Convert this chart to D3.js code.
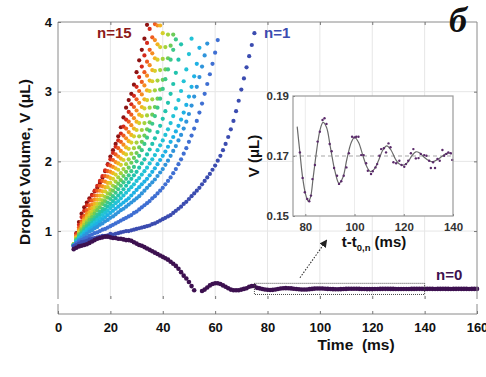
<!DOCTYPE html>
<html>
<head>
<meta charset="utf-8">
<script src="https://cdn.jsdelivr.net/npm/d3@7"></script>
<style>
  body { margin: 0; background: #fff; }
  svg { display: block; font-family: "Liberation Sans", Arial, sans-serif; font-weight: bold; }
</style>
</head>
<body>
<svg></svg>
<script>
// camera frames: first frame at 6 ms, one frame per ms
const frameStart = 6;
const frameStep = 1;

// n=0 droplet, before pinch-off (6..52 ms) and after (55..160 ms)
const vN0a = [0.74,0.76,0.78,0.79,0.80,0.81,0.83,0.85,0.87,0.89,0.90,0.91,0.92,0.92,0.91,0.90,0.90,0.89,0.89,0.88,
    0.87,0.87,0.86,0.84,0.82,0.80,0.79,0.77,0.75,0.73,0.71,0.69,0.67,0.65,0.63,0.61,0.59,0.56,0.53,0.50,
    0.46,0.41,0.36,0.32,0.27,0.21,0.15];
const tailStart = 55;
const vN0b = [0.14,0.16,0.19,0.22,0.24,0.25,0.25,0.24,0.22,0.20,0.18,0.16,0.15,0.15,0.15,0.16,0.17,0.18,0.20,0.21,0.21,
    0.185,0.178,0.168,0.161,0.157,0.155,0.156,0.161,0.168,0.175,0.179,0.181,0.180,0.177,0.173,0.168,0.165,0.162,0.161,0.162,
    0.166,0.170,0.174,0.176,0.176,0.175,0.173,0.170,0.168,0.166,0.165,0.165,0.166,0.168,0.170,0.172,0.173,0.173,0.173,0.171,
    0.169,0.168,0.167,0.167,0.167,0.168,0.169,0.170,0.171,0.171,0.171,0.170,0.170,0.169,0.168,0.168,0.168,0.169,0.169,0.170,
    0.170,0.171,0.171,0.171,0.170,
    0.170,0.171,0.170,0.169,0.170,0.170,0.171,0.170,0.170,0.169,0.170,0.170,0.171,0.170,0.170,0.170,0.169,0.170,0.170,0.170];

const vN1 = [0.78,0.80,0.82,0.84,0.85,0.86,0.88,0.89,0.90,0.91,0.92,0.93,0.93,0.94,0.96,0.95,0.96,0.97,0.98,0.99,
    1.00,1.00,1.01,1.02,1.03,1.04,1.05,1.06,1.07,1.08,1.10,1.11,1.13,1.15,1.17,1.19,1.21,1.23,1.26,1.29,
    1.32,1.35,1.39,1.42,1.46,1.50,1.54,1.58,1.62,1.67,1.72,1.77,1.82,1.88,1.94,2.01,2.08,2.16,2.25,2.35,
    2.46,2.58,2.72,2.87,3.03,3.19,3.35,3.51,3.67,3.84];
const vN2 = [0.79,0.82,0.85,0.87,0.89,0.91,0.93,0.95,0.97,0.98,1.00,1.02,1.03,1.05,1.07,1.09,1.11,1.13,1.15,1.17,
    1.19,1.21,1.23,1.26,1.28,1.31,1.34,1.37,1.40,1.43,1.47,1.50,1.54,1.58,1.62,1.67,1.72,1.77,1.83,1.89,
    1.96,2.03,2.11,2.19,2.28,2.37,2.47,2.58,2.70,2.83,2.97,3.11,3.25,3.40,3.56,3.74];
const vN3 = [0.79,0.83,0.87,0.90,0.93,0.96,0.99,1.01,1.04,1.06,1.09,1.11,1.14,1.16,1.19,1.21,1.24,1.27,1.30,1.32,
    1.35,1.38,1.41,1.44,1.47,1.50,1.54,1.58,1.62,1.66,1.70,1.74,1.79,1.84,1.89,1.95,2.01,2.08,2.15,2.22,
    2.30,2.38,2.47,2.57,2.68,2.80,2.93,3.07,3.21,3.36,3.52,3.69];
const vN4 = [0.79,0.84,0.88,0.92,0.96,0.99,1.02,1.05,1.08,1.11,1.14,1.17,1.20,1.23,1.26,1.29,1.32,1.35,1.38,1.41,
    1.44,1.47,1.51,1.55,1.59,1.63,1.67,1.71,1.75,1.80,1.85,1.90,1.96,2.02,2.08,2.14,2.21,2.28,2.35,2.43,
    2.51,2.60,2.70,2.81,2.93,3.07,3.22,3.40,3.63];
const vN5 = [0.80,0.85,0.90,0.94,0.98,1.02,1.05,1.09,1.12,1.16,1.19,1.23,1.26,1.29,1.33,1.36,1.40,1.43,1.47,1.51,
    1.55,1.59,1.63,1.67,1.72,1.76,1.81,1.86,1.91,1.97,2.03,2.09,2.16,2.23,2.30,2.38,2.46,2.55,2.65,2.76,
    2.88,3.01,3.15,3.32,3.54,3.76];
const vN6 = [0.80,0.86,0.91,0.96,1.00,1.04,1.08,1.12,1.16,1.20,1.24,1.28,1.31,1.35,1.39,1.43,1.47,1.51,1.55,1.60,
    1.65,1.70,1.75,1.80,1.85,1.91,1.97,2.03,2.10,2.17,2.25,2.33,2.42,2.51,2.61,2.72,2.84,2.97,3.11,3.27,
    3.46,3.68];
const vN7 = [0.80,0.87,0.93,0.98,1.03,1.07,1.11,1.16,1.20,1.24,1.28,1.32,1.37,1.41,1.46,1.50,1.55,1.60,1.65,1.70,
    1.75,1.80,1.86,1.92,2.00,2.08,2.16,2.25,2.34,2.44,2.54,2.65,2.77,2.90,3.04,3.18,3.32,3.46,3.60,3.75];
const vN8 = [0.81,0.88,0.95,1.01,1.06,1.11,1.16,1.20,1.25,1.30,1.34,1.39,1.43,1.48,1.53,1.58,1.63,1.68,1.73,1.79,
    1.85,1.91,1.98,2.05,2.12,2.20,2.28,2.37,2.46,2.56,2.67,2.78,2.90,3.03,3.17,3.32,3.48,3.66,3.82];
const vN9 = [0.81,0.89,0.96,1.03,1.09,1.14,1.19,1.24,1.29,1.34,1.39,1.44,1.49,1.54,1.59,1.65,1.71,1.77,1.83,1.89,
    1.96,2.03,2.11,2.19,2.27,2.36,2.45,2.55,2.66,2.77,2.89,3.02,3.16,3.31,3.47,3.64,3.82];
const vN10 = [0.81,0.90,0.98,1.05,1.12,1.18,1.23,1.28,1.34,1.39,1.45,1.51,1.57,1.63,1.69,1.75,1.81,1.88,1.95,2.02,
    2.10,2.18,2.27,2.36,2.45,2.55,2.65,2.76,2.88,3.01,3.15,3.30,3.46,3.64,3.84];
const vN11 = [0.81,0.91,1.00,1.08,1.15,1.21,1.27,1.33,1.39,1.45,1.51,1.57,1.63,1.69,1.76,1.83,1.90,1.97,2.04,2.12,
    2.20,2.29,2.38,2.47,2.57,2.67,2.78,2.89,3.02,3.16,3.31,3.48,3.68,3.95];
const vN12 = [0.81,0.92,1.02,1.11,1.18,1.25,1.32,1.38,1.45,1.51,1.58,1.64,1.71,1.78,1.85,1.92,1.99,2.07,2.15,2.24,
    2.33,2.42,2.52,2.62,2.73,2.84,2.96,3.09,3.23,3.38,3.55,3.74,3.95];
const vN13 = [0.80,0.94,1.05,1.14,1.22,1.30,1.37,1.44,1.51,1.58,1.65,1.72,1.79,1.86,1.94,2.02,2.10,2.19,2.28,2.37,
    2.47,2.57,2.67,2.78,2.89,3.01,3.14,3.28,3.43,3.60,3.78,3.97];
const vN14 = [0.80,0.96,1.09,1.20,1.29,1.37,1.44,1.51,1.58,1.65,1.72,1.79,1.87,1.95,2.03,2.12,2.21,2.30,2.40,2.50,
    2.60,2.71,2.82,2.94,3.07,3.21,3.36,3.52,3.70,3.90];
const vN15 = [0.80,0.97,1.13,1.25,1.34,1.41,1.47,1.52,1.57,1.62,1.69,1.77,1.86,1.96,2.07,2.16,2.25,2.36,2.49,2.63,
    2.77,2.88,2.97,3.10,3.28,3.45,3.60,3.76,3.96];

const growing = [vN1, vN2, vN3, vN4, vN5, vN6, vN7, vN8, vN9, vN10, vN11, vN12, vN13, vN14, vN15];
const colors = ["#3d1150", "#3b4cb0", "#3f6fd2", "#2f94db", "#1fb1e4", "#22c2d6", "#22c3ad", "#3cc889",
    "#6ccc58", "#a5d23c", "#d6cf2b", "#f3b320", "#f68b21", "#ee5b20", "#d42a1b", "#8d1212"];

// inset: fitted curve and raw points of n=0 after pinch-off
const insetCurveT = [76.7,77.8,78.9,80.1,81.2,82.1,83.2,84.6,85.9,87.2,88.6,90.2,92.0,93.7,95.3,96.9,98.7,100.0,101.6,103.4,
    105.0,106.5,108.1,109.7,111.5,113.1,114.8,116.6,118.2,119.9,121.6,123.3,124.9,126.5,128.3,130.3,131.9,133.7,135.4,137.0,
    138.4,139.5];
const insetCurveV = [0.1798,0.1712,0.1629,0.1573,0.1549,0.1562,0.1629,0.1718,0.1784,0.1812,0.1796,0.1729,0.1651,0.1609,
    0.1629,0.1690,0.1746,0.1762,0.1746,0.1701,0.1664,0.1648,0.1657,0.1684,0.1720,0.1734,0.1720,0.1690,0.1673,0.1670,
    0.1679,0.1701,0.1714,0.1710,0.1696,0.1684,0.1681,0.1688,0.1698,0.1707,0.1710,0.1707];
const insetDotT = [77.8,78.9,79.8,80.8,81.6,82.3,82.9,83.9,85.0,85.9,87.0,87.8,88.6,89.9,90.7,91.7,92.9,93.7,94.6,95.6,
    96.7,97.7,99.0,100.0,100.7,101.6,102.7,103.7,104.7,105.4,106.7,107.4,108.5,109.2,110.1,110.8,111.9,112.8,113.8,114.6,
    115.8,116.9,118.2,119.1,120.2,120.9,121.8,122.9,123.9,124.9,126.0,126.9,128.3,129.2,130.3,131.0,131.9,132.7,133.7,134.6,
    135.7,136.4,137.3,138.1,139.1,139.7];
const insetDotV = [0.1712,0.1627,0.1579,0.1557,0.1549,0.1568,0.1623,0.1670,0.1748,0.1781,0.1820,0.1826,0.1807,0.1740,
    0.1716,0.1660,0.1634,0.1607,0.1616,0.1634,0.1662,0.1709,0.1764,0.1762,0.1764,0.1764,0.1703,0.1703,0.1676,0.1651,
    0.1640,0.1649,0.1662,0.1673,0.1701,0.1723,0.1726,0.1712,0.1742,0.1729,0.1679,0.1676,0.1684,0.1670,0.1664,0.1673,
    0.1684,0.1709,0.1723,0.1692,0.1693,0.1707,0.1703,0.1701,0.1684,0.1660,0.1679,0.1660,0.1690,0.1684,0.1720,0.1701,
    0.1707,0.1712,0.1709,0.1687];

const xTicks = [0, 20, 40, 60, 80, 100, 120, 140, 160];
const yTicks = [1, 2, 3, 4];
const insetXTicks = [80, 100, 120, 140];
const insetYTicks = [0.15, 0.17, 0.19];

const svg = d3.select("svg")
    .attr("width", 486)
    .attr("height", 377);

const pLeft = 58, pRight = 477, pTop = 22, upperBottom = 299, lowerTop = 304, pBottom = 314;

const x = d3.scaleLinear().domain([0, 160]).range([pLeft, pRight]);
const y = d3.scaleLinear().domain([0.025, 4]).range([upperBottom, pTop]);

// grid
svg.append("g").selectAll("line")
    .data(xTicks.filter(d => d > 0 && d < 160))
    .enter().append("line")
    .attr("x1", d => x(d)).attr("x2", d => x(d))
    .attr("y1", pTop).attr("y2", upperBottom)
    .attr("stroke", "#e6e6e6");
svg.append("g").selectAll("line")
    .data(yTicks.filter(d => d < 4))
    .enter().append("line")
    .attr("x1", pLeft).attr("x2", pRight)
    .attr("y1", d => y(d)).attr("y2", d => y(d))
    .attr("stroke", "#e6e6e6");

// growing droplets, n=15 drawn first
const dots = svg.append("g");
for (let i = growing.length - 1; i >= 0; i--) {
    dots.append("g").selectAll("circle")
        .data(growing[i])
        .enter().append("circle")
        .attr("cx", (d, j) => x(frameStart + j * frameStep))
        .attr("cy", d => y(d))
        .attr("r", 2.1)
        .attr("fill", colors[i + 1]);
}
const n0 = vN0a.map((v, j) => [frameStart + j * frameStep, v])
    .concat(vN0b.map((v, j) => [tailStart + j * frameStep, v]));
dots.append("g").selectAll("circle")
    .data(n0)
    .enter().append("circle")
    .attr("cx", d => x(d[0]))
    .attr("cy", d => y(d[1]))
    .attr("r", 2.3)
    .attr("fill", colors[0]);

// zoom box and arrow
svg.append("rect")
    .attr("x", x(75)).attr("y", y(0.25))
    .attr("width", x(140) - x(75)).attr("height", y(0.09) - y(0.25))
    .attr("fill", "none")
    .attr("stroke", "#444")
    .attr("stroke-dasharray", "1,1");
svg.append("defs").append("marker")
    .attr("id", "head")
    .attr("viewBox", "0 0 10 10")
    .attr("refX", 9).attr("refY", 5)
    .attr("markerWidth", 7).attr("markerHeight", 7)
    .attr("orient", "auto")
    .append("path")
    .attr("d", "M0,0L10,5L0,10z")
    .attr("fill", "#222");
svg.append("line")
    .attr("x1", x(92.4)).attr("y1", y(0.33))
    .attr("x2", x(102.6)).attr("y2", y(0.87))
    .attr("stroke", "#333")
    .attr("stroke-width", 1.1)
    .attr("stroke-dasharray", "1.5,1.5")
    .attr("marker-end", "url(#head)");

// frame with the axis break
const frameColor = "#8a8a8a";
const frame = svg.append("g").attr("stroke", frameColor).attr("fill", "none");
frame.append("path").attr("d", `M${pLeft},${upperBottom}V${pTop}H${pRight}V${upperBottom}`);
frame.append("path").attr("d", `M${pLeft},${lowerTop}V${pBottom}H${pRight}V${lowerTop}`);

function styleAxis(g) {
    g.select(".domain").remove();
    g.selectAll(".tick line").attr("stroke", "#777");
    g.selectAll("text").attr("fill", "#111").attr("font-size", 13).attr("font-weight", "bold")
        .attr("font-family", "Liberation Sans, Arial, sans-serif");
}

svg.append("g")
    .attr("transform", `translate(0,${pBottom})`)
    .call(d3.axisBottom(x).tickValues(xTicks).tickSizeInner(-3).tickSizeOuter(0).tickPadding(9))
    .call(styleAxis);
svg.append("g")
    .attr("transform", `translate(0,${upperBottom})`)
    .call(d3.axisBottom(x).tickValues(xTicks.slice(1, -1)).tickSizeInner(-3).tickSizeOuter(0).tickFormat(""))
    .call(styleAxis);
svg.append("g")
    .attr("transform", `translate(0,${pTop})`)
    .call(d3.axisTop(x).tickValues(xTicks.slice(1, -1)).tickSizeInner(-3).tickSizeOuter(0).tickFormat(""))
    .call(styleAxis);
svg.append("g")
    .attr("transform", `translate(${pLeft},0)`)
    .call(d3.axisLeft(y).tickValues(yTicks).tickFormat(d3.format("d")).tickSizeInner(-3).tickSizeOuter(0).tickPadding(6))
    .call(styleAxis);
svg.append("g")
    .attr("transform", `translate(${pRight},0)`)
    .call(d3.axisRight(y).tickValues(yTicks.slice(0, -1)).tickSizeInner(-3).tickSizeOuter(0).tickFormat(""))
    .call(styleAxis);

svg.append("text")
    .attr("x", 356).attr("y", 350)
    .attr("text-anchor", "middle")
    .attr("font-size", 15.5)
    .attr("fill", "#111")
    .style("white-space", "pre")
    .text("Time  (ms)");
svg.append("text")
    .attr("transform", "translate(30,162) rotate(-90)")
    .attr("text-anchor", "middle")
    .attr("font-size", 15.5)
    .attr("fill", "#111")
    .text("Droplet Volume, V (μL)");

// series labels
svg.append("text").attr("x", 97).attr("y", 38).attr("font-size", 15).attr("fill", "#8d1a1a").text("n=15");
svg.append("text").attr("x", 264).attr("y", 38).attr("font-size", 15).attr("fill", "#3b4cb0").text("n=1");
svg.append("text").attr("x", 436).attr("y", 280).attr("font-size", 15).attr("fill", "#3d1150").text("n=0");

svg.append("text")
    .attr("x", 449).attr("y", 32)
    .attr("font-family", "Liberation Serif, Times New Roman, serif")
    .attr("font-style", "italic")
    .attr("font-size", 36)
    .attr("fill", "#111")
    .text("б");

// inset
const xi = d3.scaleLinear().domain([75, 140]).range([293, 453]);
const yi = d3.scaleLinear().domain([0.15, 0.19]).range([216, 96]);
const inset = svg.append("g");
inset.append("rect")
    .attr("x", xi(75)).attr("y", yi(0.19))
    .attr("width", xi(140) - xi(75)).attr("height", yi(0.15) - yi(0.19))
    .attr("fill", "#fff");
inset.append("g").selectAll("line")
    .data(insetXTicks.slice(0, -1))
    .enter().append("line")
    .attr("x1", d => xi(d)).attr("x2", d => xi(d))
    .attr("y1", yi(0.19)).attr("y2", yi(0.15))
    .attr("stroke", "#ececec");
inset.append("line")
    .attr("x1", xi(75)).attr("x2", xi(140))
    .attr("y1", yi(0.17)).attr("y2", yi(0.17))
    .attr("stroke", "#c4c4c4")
    .attr("stroke-width", 1.6)
    .attr("stroke-dasharray", "4,3");
inset.append("path")
    .datum(insetCurveT.map((t, i) => [t, insetCurveV[i]]))
    .attr("d", d3.line().x(d => xi(d[0])).y(d => yi(d[1])).curve(d3.curveCatmullRom))
    .attr("fill", "none")
    .attr("stroke", "#6a6a6a")
    .attr("stroke-width", 1.2);
inset.append("g").selectAll("circle")
    .data(insetDotT.map((t, i) => [t, insetDotV[i]]))
    .enter().append("circle")
    .attr("cx", d => xi(d[0]))
    .attr("cy", d => yi(d[1]))
    .attr("r", 1.2)
    .attr("fill", "#5a2a6a");
inset.append("rect")
    .attr("x", xi(75)).attr("y", yi(0.19))
    .attr("width", xi(140) - xi(75)).attr("height", yi(0.15) - yi(0.19))
    .attr("fill", "none")
    .attr("stroke", "#9a9a9a")
    .attr("stroke-width", 1.2);

function styleInsetAxis(g) {
    g.select(".domain").remove();
    g.selectAll(".tick line").attr("stroke", "#888");
    g.selectAll("text").attr("fill", "#333").attr("font-size", 11.5).attr("font-weight", "bold")
        .attr("font-family", "Liberation Sans, Arial, sans-serif");
}
inset.append("g")
    .attr("transform", `translate(0,${yi(0.15)})`)
    .call(d3.axisBottom(xi).tickValues(insetXTicks).tickSizeInner(-2).tickSizeOuter(0).tickPadding(7))
    .call(styleInsetAxis);
inset.append("g")
    .attr("transform", `translate(${xi(75)},0)`)
    .call(d3.axisLeft(yi).tickValues(insetYTicks).tickFormat(d3.format(".2f")).tickSizeInner(-2).tickSizeOuter(0).tickPadding(4))
    .call(styleInsetAxis);

inset.append("text")
    .attr("transform", "translate(259,156) rotate(-90)")
    .attr("text-anchor", "middle")
    .attr("font-size", 15)
    .attr("fill", "#111")
    .text("V (μL)");
const tl = inset.append("text")
    .attr("x", 374).attr("y", 247)
    .attr("text-anchor", "middle")
    .attr("font-size", 15)
    .attr("fill", "#111")
    .style("white-space", "pre");
tl.append("tspan").text("t-t");
tl.append("tspan").attr("dy", 4).attr("font-size", 9.5).text("0,n");
tl.append("tspan").attr("dy", -4).text(" (ms)");
</script>
</body>
</html>
